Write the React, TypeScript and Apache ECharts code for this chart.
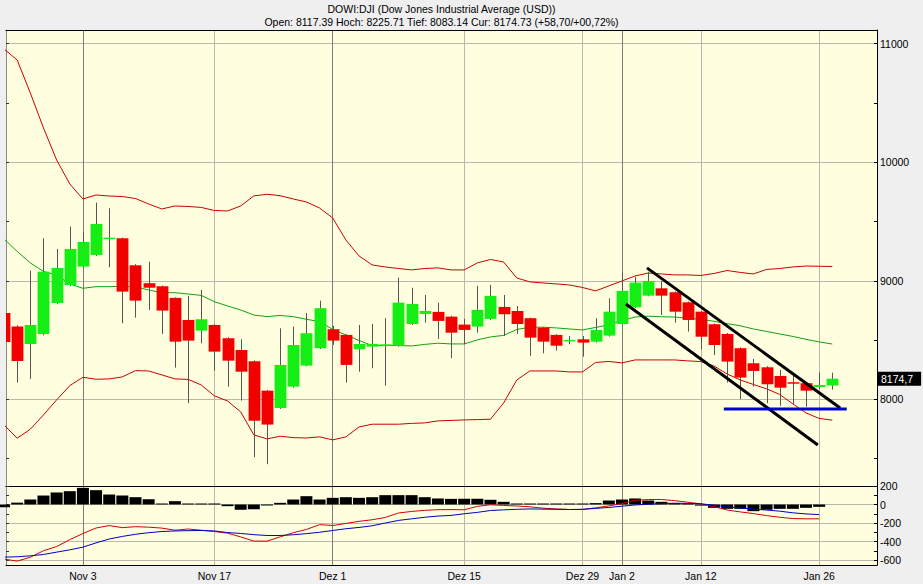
import React, { useEffect, useRef } from 'react';
import * as echarts from 'echarts';

const titleLine1 = 'DOWI:DJI (Dow Jones Industrial Average (USD))';
const titleLine2 = 'Open: 8117.39 Hoch: 8225.71 Tief: 8083.14 Cur: 8174.73 (+58,70/+00,72%)';

const dates = [
  'Okt 24', 'Okt 27', 'Okt 28', 'Okt 29', 'Okt 30', 'Okt 31',
  'Nov 3', 'Nov 4', 'Nov 5', 'Nov 6', 'Nov 7',
  'Nov 10', 'Nov 11', 'Nov 12', 'Nov 13', 'Nov 14',
  'Nov 17', 'Nov 18', 'Nov 19', 'Nov 20', 'Nov 21',
  'Nov 24', 'Nov 25', 'Nov 26', 'Nov 28',
  'Dez 1', 'Dez 2', 'Dez 3', 'Dez 4', 'Dez 5',
  'Dez 8', 'Dez 9', 'Dez 10', 'Dez 11', 'Dez 12',
  'Dez 15', 'Dez 16', 'Dez 17', 'Dez 18', 'Dez 19',
  'Dez 22', 'Dez 23', 'Dez 24', 'Dez 26',
  'Dez 29', 'Dez 30', 'Dez 31',
  'Jan 2',
  'Jan 5', 'Jan 6', 'Jan 7', 'Jan 8', 'Jan 9',
  'Jan 12', 'Jan 13', 'Jan 14', 'Jan 15', 'Jan 16',
  'Jan 20', 'Jan 21', 'Jan 22', 'Jan 23',
  'Jan 26', 'Jan 27',
];

const labelDates = ['Nov 3', 'Nov 17', 'Dez 1', 'Dez 15', 'Dez 29', 'Jan 2', 'Jan 12', 'Jan 26'];
const monthStartDates = ['Nov 3', 'Dez 1', 'Jan 2'];

const opens = [
  8729, 8614, 8468, 8552, 8813, 8965, 9120, 9218, 9353, 9359,
  9131, 8980, 8954, 8856, 8670, 8580, 8628, 8516, 8417, 8322,
  8074, 7928, 8108, 8285, 8432, 8592, 8544, 8423, 8445, 8460,
  8453, 8636, 8721, 8738, 8698, 8631, 8614, 8679, 8780, 8746,
  8685, 8605, 8544, 8497, 8507, 8487, 8538, 8636, 8777, 8875,
  8937, 8904, 8819, 8740, 8634, 8552, 8432, 8305, 8271, 8198,
  8145, 8137, 8105, 8117.39,
];
const closes = [
  8485, 8325, 8628, 9077, 9109, 9269, 9328, 9479, 9364, 8909,
  8833, 8942, 8749, 8487, 8496, 8676, 8403, 8327, 8234, 7821,
  7788, 8291, 8459, 8558, 8769, 8496, 8291, 8468, 8468, 8465,
  8816, 8805, 8746, 8662, 8563, 8586, 8755, 8873, 8718, 8636,
  8521, 8487, 8453, 8502, 8479, 8586, 8740, 8915, 8985, 8999,
  8875, 8740, 8670, 8529, 8459, 8319, 8184, 8240, 8128, 8099,
  8140, 8074, 8122, 8174.73,
];
const lows = [
  8400, 8142, 8173, 8540, 8805, 8955, 9110, 9210, 9114, 8642,
  8690, 8754, 8552, 8268, 7968, 8474, 8243, 8108, 7990, 7513,
  7454, 7920, 8100, 8280, 8425, 8460, 8142, 8234, 8263, 8116,
  8445, 8628, 8647, 8510, 8347, 8465, 8563, 8670, 8535, 8552,
  8367, 8389, 8411, 8465, 8361, 8480, 8530, 8630, 8770, 8870,
  8712, 8647, 8572, 8423, 8375, 8142, 8002, 8108, 7968, 7945,
  7962, 7939, 8090, 8083.14,
];
const highs = [
  8790, 8625, 9086, 9359, 9269, 9457, 9415, 9659, 9612, 9365,
  9140, 9162, 8960, 8860, 8873, 8923, 8635, 8525, 8507, 8330,
  8080, 8600, 8614, 8727, 8833, 8620, 8550, 8628, 8636, 8685,
  9027, 8942, 8881, 8816, 8705, 8679, 8957, 8965, 8881, 8788,
  8690, 8610, 8550, 8535, 8535, 8685, 8853, 9069, 9033, 9077,
  8999, 8910, 8825, 8745, 8640, 8560, 8440, 8341, 8280, 8249,
  8207, 8145, 8226, 8225.71,
];

const upperBand = [
  10955, 10862, 10584, 10289, 10019, 9817, 9690, 9724, 9715, 9711,
  9694, 9648, 9606, 9631, 9627, 9619, 9593, 9589, 9631, 9716,
  9730, 9718, 9690, 9665, 9614, 9530, 9345, 9210, 9134, 9117,
  9104, 9092, 9104, 9109, 9092, 9092, 9151, 9180, 9159, 9024,
  8991, 8982, 8974, 8965, 8944, 8915, 8957, 8999, 9041, 9066,
  9058, 9050, 9050, 9045, 9062, 9087, 9071, 9058, 9096, 9104,
  9117, 9125, 9123, 9121,
];
const midBand = [
  9353, 9248, 9151, 9079, 9050, 8974, 8937, 8951, 8951, 8953,
  8948, 8923, 8900, 8900, 8889, 8877, 8824, 8788, 8754, 8712,
  8698, 8708, 8698, 8676, 8656, 8590, 8544, 8497, 8454, 8454,
  8454, 8451, 8464, 8474, 8468, 8468, 8502, 8527, 8540, 8590,
  8609, 8609, 8603, 8594, 8586, 8607, 8628, 8666, 8695, 8702,
  8697, 8695, 8685, 8676, 8659, 8639, 8621, 8594, 8573, 8552,
  8531, 8507, 8485, 8467,
];
const lowerBand = [
  7785, 7673, 7749, 7869, 7996, 8116, 8187, 8170, 8173, 8190,
  8243, 8240, 8207, 8173, 8169, 8122, 8030, 7987, 7895, 7701,
  7667, 7690, 7678, 7675, 7684, 7659, 7684, 7768, 7791, 7791,
  7791, 7798, 7802, 7819, 7823, 7827, 7830, 7833, 7970, 8164,
  8240, 8240, 8240, 8232, 8232, 8312, 8320, 8308, 8333, 8333,
  8333, 8333, 8325, 8319, 8282, 8215, 8164, 8126, 8089, 8042,
  7962, 7886, 7840, 7825,
];

const macdLine = [
  -590, -612, -570, -500, -455, -380, -314, -254, -228, -250,
  -240, -245, -255, -278, -265, -278, -292, -310, -350, -396,
  -396, -350, -305, -270, -218, -227, -205, -182, -165, -140,
  -92, -75, -63, -56, -55, -57, -20, -3, -10, -16,
  -25, -40, -48, -54, -54, -36, -15, 10, 45, 54,
  54, 42, 25, 6, -22, -60, -80, -98, -120, -138,
  -152, -155, -155,
];
const signalLine = [
  -569, -565, -555, -540, -515, -490, -461, -415, -373, -345,
  -322, -305, -292, -286, -283, -281, -286, -303, -313, -326,
  -335, -335, -327, -315, -300, -281, -262, -248, -230, -200,
  -172, -155, -138, -125, -118, -100, -85, -65, -58, -52,
  -48, -50, -52, -54, -52, -42, -32, -18, -5, 3,
  10, 14, 12, 8, -8, -25, -38, -50, -60, -72,
  -90, -102, -109,
];
const macdHist = [
  -29, 20, 54, 97, 130, 144, 180, 155, 108, 97,
  79, 57, 8, 36, 10, 0, 0, -18, -57, -50,
  -8, 18, 54, 90, 54, 72, 79, 72, 79, 101,
  101, 101, 79, 65, 61, 62, 62, 51, 29, 10,
  3, 0, 0, 0, 0, 15, 43, 54, 65, 43,
  29, 15, 5, -12, -36, -47, -47, -72, -57, -47,
  -47, -36, -25,
];

// hand-drawn annotations: [trading-day index, price]
const channelUpper = [[48.9, 9109], [63.6, 7928]];
const channelLower = [[47.3, 8805], [61.9, 7616]];
const supportLine = [[54.75, 7920], [64.1, 7920]];

const priceLabels = [8000, 9000, 10000, 11000];
const priceTicks = [7500, 8000, 8500, 9000, 9500, 10000, 10500, 11000];
const macdLabels = [-600, -400, -200, 0, 200];
const macdGridValues = [-600, -400, -200, 0];
const macdTicks = [-600, -500, -400, -300, -200, -100, 0, 100, 200];

const FONT = '"Liberation Sans", Arial, sans-serif';
const UP = '#14ee14';
const DOWN = '#f20000';

export default function App() {
  const ref = useRef<HTMLDivElement>(null);

  useEffect(() => {
    if (!ref.current) return;
    const chart = echarts.init(ref.current, undefined, { renderer: 'svg' });

    const idx = (d: string) => dates.indexOf(d);
    const labelIdx = labelDates.map(idx);
    const darkIdx = monthStartDates.map(idx);
    const lightIdx = labelIdx.filter((v) => !darkIdx.includes(v));
    const ohlc = dates.map((_, i) => [i, opens[i], closes[i], lows[i], highs[i]]);
    const pair = (arr: number[]) => arr.map((v, i) => [i, v]);
    const lastClose = closes[closes.length - 1];
    const plain = (v: number) => String(v);

    const xMin = 0.15;
    const xMax = 66.4;
    const pMin = 7270;
    const pMax = 11115;
    const mMin = -654;
    const mMax = 200;

    const xAxisBase = (grid: number, pos: string, split: number[], color: string, labels: boolean) => ({
      type: 'value',
      gridIndex: grid,
      position: pos,
      min: xMin,
      max: xMax,
      axisLine: { show: true, onZero: false, lineStyle: { color: '#000', width: 1 } },
      axisTick: { show: false, customValues: split },
      splitLine: { show: true, lineStyle: { color, width: 1 } },
      axisLabel: labels
        ? {
            show: true,
            customValues: labelIdx,
            formatter: (v: number) => dates[Math.round(v)] || '',
            color: '#000',
            fontSize: 10.5,
            fontFamily: FONT,
            margin: 5,
          }
        : { show: false },
    });

    const option: any = {
      animation: false,
      backgroundColor: '#efefef',
      textStyle: { fontFamily: FONT },
      graphic: [
        {
          type: 'text',
          x: 441.5,
          y: 9,
          style: { text: titleLine1, textAlign: 'center', textVerticalAlign: 'middle', fontSize: 10.5, fontFamily: FONT, fill: '#000' },
        },
        {
          type: 'text',
          x: 441.5,
          y: 22,
          style: { text: titleLine2, textAlign: 'center', textVerticalAlign: 'middle', fontSize: 10.5, fontFamily: FONT, fill: '#000' },
        },
      ],
      grid: [
        { left: 6, right: 46, top: 30, height: 456, show: true, backgroundColor: '#ffffe0', borderWidth: 0 },
        { left: 6, right: 46, top: 486, height: 79, show: true, backgroundColor: '#ffffe0', borderWidth: 0 },
      ],
      xAxis: [
        xAxisBase(0, 'bottom', lightIdx, '#b8b8ac', false),
        xAxisBase(0, 'top', darkIdx, '#7c7c74', false),
        xAxisBase(1, 'bottom', lightIdx, '#b8b8ac', true),
        xAxisBase(1, 'top', darkIdx, '#7c7c74', false),
      ],
      yAxis: [
        {
          type: 'value', gridIndex: 0, position: 'right', min: pMin, max: pMax,
          axisLine: { show: true, lineStyle: { color: '#000' } },
          axisTick: { show: true, inside: true, length: 3, customValues: priceTicks, lineStyle: { color: '#000' } },
          axisLabel: { customValues: priceLabels, formatter: plain, color: '#000', fontSize: 10.5, fontFamily: FONT, margin: 3 },
          splitLine: { show: false },
        },
        {
          type: 'value', gridIndex: 0, position: 'right', min: pMin, max: pMax,
          axisLine: { show: false },
          axisTick: { show: false, customValues: priceLabels },
          axisLabel: { show: false },
          splitLine: { show: true, lineStyle: { color: '#b8b8ac' } },
        },
        {
          type: 'value', gridIndex: 0, position: 'left', min: pMin, max: pMax,
          axisLine: { show: true, lineStyle: { color: '#8a8a8a' } },
          axisTick: { show: true, inside: true, length: 3, customValues: priceTicks, lineStyle: { color: '#333' } },
          axisLabel: { show: false },
          splitLine: { show: false },
        },
        {
          type: 'value', gridIndex: 1, position: 'right', min: mMin, max: mMax,
          axisLine: { show: true, lineStyle: { color: '#000' } },
          axisTick: { show: true, inside: true, length: 3, customValues: macdTicks, lineStyle: { color: '#000' } },
          axisLabel: { customValues: macdLabels, formatter: plain, color: '#000', fontSize: 10.5, fontFamily: FONT, margin: 3 },
          splitLine: { show: false },
        },
        {
          type: 'value', gridIndex: 1, position: 'right', min: mMin, max: mMax,
          axisLine: { show: false },
          axisTick: { show: false, customValues: macdGridValues },
          axisLabel: { show: false },
          splitLine: { show: true, lineStyle: { color: '#b8b8ac' } },
        },
        {
          type: 'value', gridIndex: 1, position: 'left', min: mMin, max: mMax,
          axisLine: { show: true, lineStyle: { color: '#8a8a8a' } },
          axisTick: { show: true, inside: true, length: 3, customValues: macdTicks, lineStyle: { color: '#333' } },
          axisLabel: { show: false },
          splitLine: { show: false },
        },
      ],
      series: [
        { name: 'Upper', type: 'line', xAxisIndex: 0, yAxisIndex: 0, data: pair(upperBand), showSymbol: false, lineStyle: { color: '#c80000', width: 1 }, z: 2 },
        { name: 'Middle', type: 'line', xAxisIndex: 0, yAxisIndex: 0, data: pair(midBand), showSymbol: false, lineStyle: { color: '#10a010', width: 1 }, z: 2 },
        { name: 'Lower', type: 'line', xAxisIndex: 0, yAxisIndex: 0, data: pair(lowerBand), showSymbol: false, lineStyle: { color: '#c80000', width: 1 }, z: 2 },
        {
          name: 'DJI',
          type: 'custom',
          xAxisIndex: 0,
          yAxisIndex: 0,
          clip: true,
          z: 3,
          data: ohlc,
          encode: { x: 0, y: [1, 2, 3, 4] },
          renderItem: (params: any, api: any) => {
            const i = api.value(0);
            const o = api.value(1);
            const c = api.value(2);
            const l = api.value(3);
            const h = api.value(4);
            const pO = api.coord([i, o]);
            const pC = api.coord([i, c]);
            const pL = api.coord([i, l]);
            const pH = api.coord([i, h]);
            const w = api.size([1, 0])[0] * 0.9;
            const x = Math.round(pO[0]);
            const top = Math.min(pO[1], pC[1]);
            const hh = Math.max(Math.abs(pO[1] - pC[1]), 1.5);
            return {
              type: 'group',
              children: [
                { type: 'line', shape: { x1: x + 0.5, y1: pH[1], x2: x + 0.5, y2: pL[1] }, style: { stroke: '#555', lineWidth: 1 } },
                { type: 'rect', shape: { x: x + 0.5 - w / 2, y: top, width: w, height: hh }, style: { fill: c >= o ? UP : DOWN } },
              ],
            };
          },
        },
        { name: 'ChannelUpper', type: 'line', xAxisIndex: 0, yAxisIndex: 0, data: channelUpper, showSymbol: false, lineStyle: { color: '#000', width: 3 }, z: 5 },
        { name: 'ChannelLower', type: 'line', xAxisIndex: 0, yAxisIndex: 0, data: channelLower, showSymbol: false, lineStyle: { color: '#000', width: 3 }, z: 5 },
        { name: 'Support', type: 'line', xAxisIndex: 0, yAxisIndex: 0, data: supportLine, showSymbol: false, lineStyle: { color: '#0000d0', width: 3 }, z: 5 },
        {
          name: 'LastPrice',
          type: 'line',
          xAxisIndex: 0,
          yAxisIndex: 0,
          data: [],
          z: 6,
          markLine: {
            silent: true,
            symbol: ['none', 'none'],
            data: [{ yAxis: lastClose }],
            lineStyle: { color: 'rgba(0,0,0,0)', width: 1, type: 'solid' },
            label: {
              show: true,
              position: 'end',
              distance: 1,
              formatter: () => lastClose.toFixed(1).replace('.', ','),
              backgroundColor: '#000',
              color: '#fff',
              fontSize: 10.5,
              fontFamily: FONT,
              padding: [2, 8, 1, 3],
            },
          },
        },
        {
          name: 'Histogram',
          type: 'bar',
          xAxisIndex: 2,
          yAxisIndex: 3,
          data: pair(macdHist),
          barWidth: 12,
          barMinHeight: 1,
          itemStyle: { color: '#000' },
          z: 2,
        },
        { name: 'MACD', type: 'line', xAxisIndex: 2, yAxisIndex: 3, data: pair(macdLine), showSymbol: false, lineStyle: { color: '#d00000', width: 1 }, z: 3 },
        { name: 'Signal', type: 'line', xAxisIndex: 2, yAxisIndex: 3, data: pair(signalLine), showSymbol: false, lineStyle: { color: '#0000c0', width: 1 }, z: 3 },
      ],
    };

    chart.setOption(option);
    return () => chart.dispose();
  }, []);

  return <div ref={ref} style={{ position: 'fixed', left: 0, top: 0, width: 923, height: 584 }} />;
}
